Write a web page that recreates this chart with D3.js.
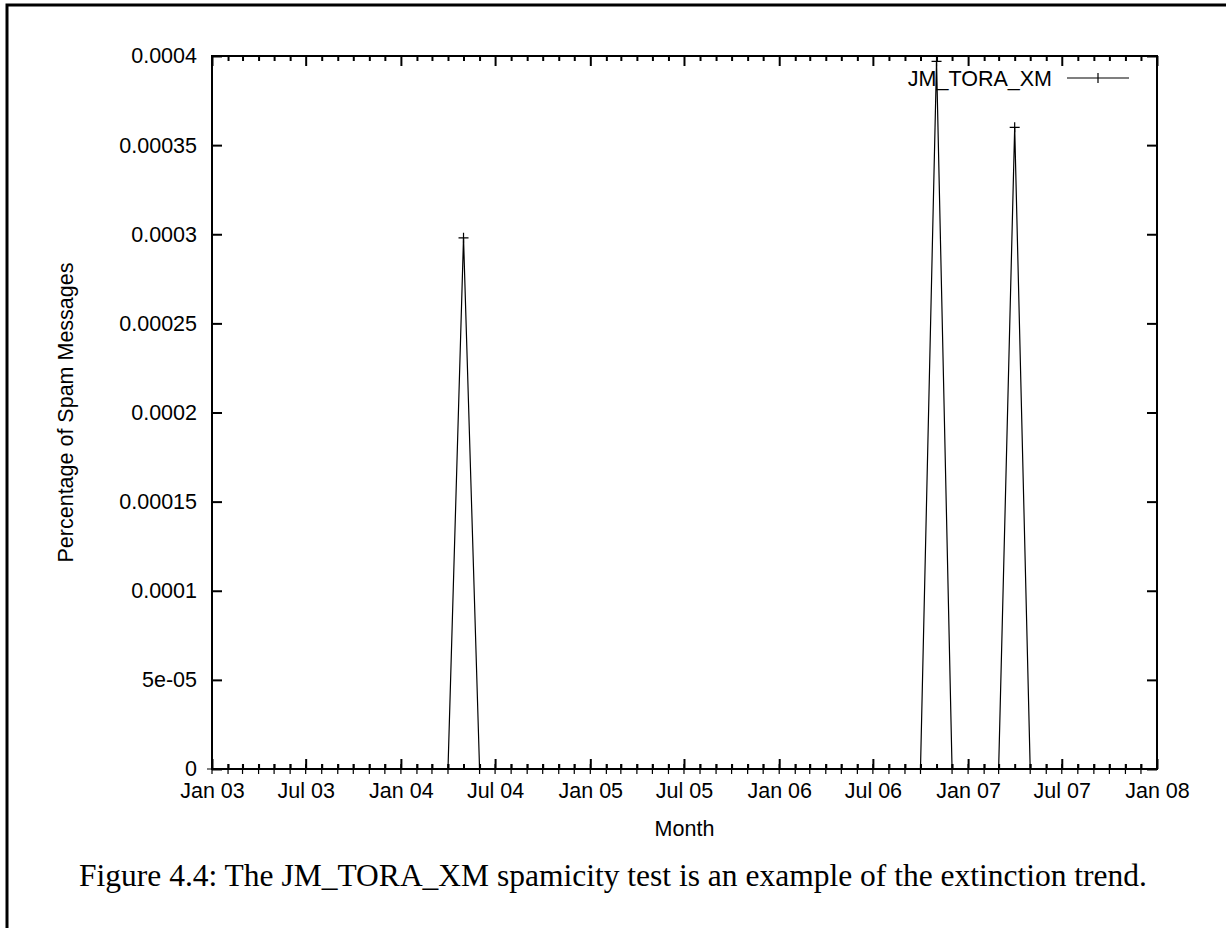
<!DOCTYPE html>
<html>
<head>
<meta charset="utf-8">
<script src="https://cdn.jsdelivr.net/npm/d3@7"></script>
<style>
  html, body { margin: 0; padding: 0; background: #fff; }
  svg { display: block; }
  .axis text { font-family: "Liberation Sans", Arial, sans-serif; font-size: 21.5px; fill: #000; }
  .axis line { stroke: #000; stroke-width: 2; }
  .axis .domain { display: none; }
</style>
</head>
<body>
<script>
// Monthly values, Jan 03 .. Dec 07
const months = [
    "2003-01","2003-02","2003-03","2003-04","2003-05","2003-06","2003-07","2003-08","2003-09","2003-10","2003-11","2003-12",
    "2004-01","2004-02","2004-03","2004-04","2004-05","2004-06","2004-07","2004-08","2004-09","2004-10","2004-11","2004-12",
    "2005-01","2005-02","2005-03","2005-04","2005-05","2005-06","2005-07","2005-08","2005-09","2005-10","2005-11","2005-12",
    "2006-01","2006-02","2006-03","2006-04","2006-05","2006-06","2006-07","2006-08","2006-09","2006-10","2006-11","2006-12",
    "2007-01","2007-02","2007-03","2007-04","2007-05","2007-06","2007-07","2007-08","2007-09","2007-10","2007-11","2007-12"
];
const values = [
    0,0,0,0,0,0,0,0,0,0,0,0,
    0,0,0,0,0.000298,0,0,0,0,0,0,0,
    0,0,0,0,0,0,0,0,0,0,0,0,
    0,0,0,0,0,0,0,0,0,0,0.000397,0,
    0,0,0,0.00036,0,0,0,0,0,0,0,0
];
const seriesName = "JM_TORA_XM";
const yTicks = [0, 0.00005, 0.0001, 0.00015, 0.0002, 0.00025, 0.0003, 0.00035, 0.0004];
const yTickLabels = ["0", "5e-05", "0.0001", "0.00015", "0.0002", "0.00025", "0.0003", "0.00035", "0.0004"];
const xDomain = ["2003-01", "2008-01"];
const caption = "Figure 4.4: The JM_TORA_XM spamicity test is an example of the extinction trend.";

const width = 1226;
const height = 928;
const plot = {left: 212, right: 1157, top: 56, bottom: 769};

const parseMonth = d3.utcParse("%Y-%m");
const data = months.map((m, i) => ({date: parseMonth(m), value: values[i]}));

const x = d3.scaleUtc()
    .domain(xDomain.map(parseMonth))
    .range([plot.left, plot.right]);
const y = d3.scaleLinear()
    .domain([0, 0.0004])
    .range([plot.bottom, plot.top]);

const svg = d3.select("body").append("svg")
    .attr("width", width)
    .attr("height", height);

// page frame (only left and top edges are visible)
svg.append("path")
    .attr("d", `M7,${height} V5 H${width}`)
    .attr("fill", "none")
    .attr("stroke", "#000")
    .attr("stroke-width", 3);

const allMonths = d3.utcMonth.range(x.domain()[0], d3.utcMonth.offset(x.domain()[1], 1));
const majorMonths = allMonths.filter(d => d.getUTCMonth() % 6 === 0);
const minorMonths = allMonths.filter(d => d.getUTCMonth() % 6 !== 0);
const formatMonth = d3.utcFormat("%b %y");

// bottom axis: minor + major ticks pointing inward
svg.append("g").attr("class", "axis")
    .attr("transform", `translate(0,${plot.bottom})`)
    .call(d3.axisBottom(x).tickValues(minorMonths).tickSize(-5).tickFormat(""));
svg.append("g").attr("class", "axis")
    .attr("transform", `translate(0,${plot.bottom})`)
    .call(d3.axisBottom(x).tickValues(majorMonths).tickSize(-10).tickPadding(14).tickFormat(formatMonth));

// top axis mirror
svg.append("g").attr("class", "axis")
    .attr("transform", `translate(0,${plot.top})`)
    .call(d3.axisTop(x).tickValues(minorMonths).tickSize(-5).tickFormat(""));
svg.append("g").attr("class", "axis")
    .attr("transform", `translate(0,${plot.top})`)
    .call(d3.axisTop(x).tickValues(majorMonths).tickSize(-10).tickFormat(""));

// left / right axes
svg.append("g").attr("class", "axis")
    .attr("transform", `translate(${plot.left},0)`)
    .call(d3.axisLeft(y).tickValues(yTicks).tickSize(-10).tickPadding(15)
        .tickFormat((d, i) => yTickLabels[i]));
svg.append("g").attr("class", "axis")
    .attr("transform", `translate(${plot.right},0)`)
    .call(d3.axisRight(y).tickValues(yTicks).tickSize(-10).tickFormat(""));

// plot border
svg.append("rect")
    .attr("x", plot.left)
    .attr("y", plot.top)
    .attr("width", plot.right - plot.left)
    .attr("height", plot.bottom - plot.top)
    .attr("fill", "none")
    .attr("stroke", "#000")
    .attr("stroke-width", 2);

// series line
const line = d3.line()
    .x(d => x(d.date))
    .y(d => y(d.value));

svg.append("path")
    .datum(data)
    .attr("d", line)
    .attr("fill", "none")
    .attr("stroke", "#000")
    .attr("stroke-width", 1.2);

// "+" point markers
const cross = 5;
svg.append("g")
    .selectAll("path")
    .data(data)
    .join("path")
    .attr("d", d => `M${x(d.date) - cross},${y(d.value)}h${cross * 2}M${x(d.date)},${y(d.value) - cross}v${cross * 2}`)
    .attr("stroke", "#000")
    .attr("stroke-width", 1.2);

// legend
const legendY = 78;
svg.append("text")
    .attr("x", 1052)
    .attr("y", legendY)
    .attr("dy", "0.35em")
    .attr("text-anchor", "end")
    .style("font-family", "Liberation Sans, Arial, sans-serif")
    .style("font-size", "21.5px")
    .text(seriesName);
svg.append("path")
    .attr("d", `M1067,${legendY}H1129M${1098 - cross},${legendY}h${cross * 2}M1098,${legendY - cross}v${cross * 2}`)
    .attr("stroke", "#000")
    .attr("stroke-width", 1.2);

// axis titles
svg.append("text")
    .attr("x", (plot.left + plot.right) / 2)
    .attr("y", 836)
    .attr("text-anchor", "middle")
    .style("font-family", "Liberation Sans, Arial, sans-serif")
    .style("font-size", "21.5px")
    .text("Month");
svg.append("text")
    .attr("transform", `translate(73,${(plot.top + plot.bottom) / 2}) rotate(-90)`)
    .attr("text-anchor", "middle")
    .style("font-family", "Liberation Sans, Arial, sans-serif")
    .style("font-size", "21.5px")
    .text("Percentage of Spam Messages");

// figure caption
svg.append("text")
    .attr("x", (78 + 1148) / 2)
    .attr("y", 886)
    .attr("text-anchor", "middle")
    .style("font-family", "Liberation Serif, Times New Roman, serif")
    .style("font-size", "31.5px")
    .text(caption);
</script>
</body>
</html>
